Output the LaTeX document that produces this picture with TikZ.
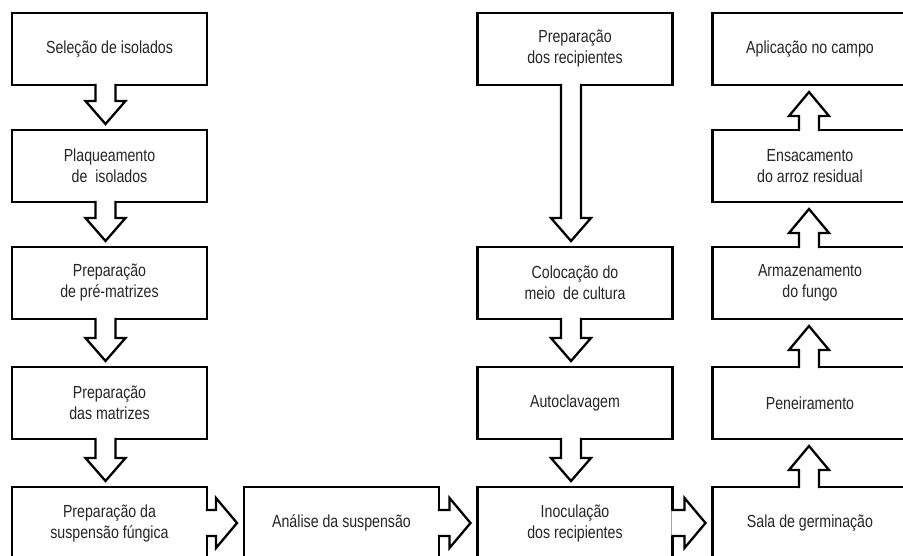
\documentclass[tikz,border=0pt]{standalone}
\usepackage{fontspec}
\setmainfont{Liberation Sans}
\newfontfamily\boxfont[FakeStretch=0.81]{Liberation Sans}
\usepackage{tikz}
\usetikzlibrary{calc}
\tikzset{
  stepbox/.style={draw, line width=2.4pt, fill=white, outer sep=0pt, inner sep=0pt,
    minimum width=195pt, minimum height=72pt, align=center, text=black!85,
    font=\boxfont\fontsize{17.5}{21}\selectfont},
  blkline/.style={line width=2.3pt, line join=miter},
}
\newcommand{\blkdown}[3]{%
  \fill[white] let \p1=($(#1.south)+(#3,0)$), \p2=(#2.north) in
    (\x1-10pt,\y1+1.2pt) -- (\x1-10pt,\y2+29pt) -- (\x1-20pt,\y2+29pt) -- (\x1,\y2+6pt)
    -- (\x1+20pt,\y2+29pt) -- (\x1+10pt,\y2+29pt) -- (\x1+10pt,\y1+1.2pt) -- cycle;
  \draw[blkline] let \p1=($(#1.south)+(#3,0)$), \p2=(#2.north) in
    (\x1-10pt,\y1+1.2pt) -- (\x1-10pt,\y2+29pt) -- (\x1-20pt,\y2+29pt) -- (\x1,\y2+6pt)
    -- (\x1+20pt,\y2+29pt) -- (\x1+10pt,\y2+29pt) -- (\x1+10pt,\y1+1.2pt);
}
\newcommand{\blkup}[3]{%
  \fill[white] let \p1=($(#1.north)+(#3,0)$), \p2=(#2.south) in
    (\x1-10pt,\y1-1.2pt) -- (\x1-10pt,\y2-31pt) -- (\x1-20pt,\y2-31pt) -- (\x1,\y2-7pt)
    -- (\x1+20pt,\y2-31pt) -- (\x1+10pt,\y2-31pt) -- (\x1+10pt,\y1-1.2pt) -- cycle;
  \draw[blkline] let \p1=($(#1.north)+(#3,0)$), \p2=(#2.south) in
    (\x1-10pt,\y1-1.2pt) -- (\x1-10pt,\y2-31pt) -- (\x1-20pt,\y2-31pt) -- (\x1,\y2-7pt)
    -- (\x1+20pt,\y2-31pt) -- (\x1+10pt,\y2-31pt) -- (\x1+10pt,\y1-1.2pt);
}
\newcommand{\blkright}[2]{%
  \fill[white] let \p1=(#1.east), \p2=(#2.west) in
    (\x1-1.2pt,\y1+13pt) -- (\x2-28pt,\y1+13pt) -- (\x2-28pt,\y1+25pt) -- (\x2-7pt,\y1)
    -- (\x2-28pt,\y1-25pt) -- (\x2-28pt,\y1-13pt) -- (\x1-1.2pt,\y1-13pt) -- cycle;
  \draw[blkline] let \p1=(#1.east), \p2=(#2.west) in
    (\x1-1.2pt,\y1+13pt) -- (\x2-28pt,\y1+13pt) -- (\x2-28pt,\y1+25pt) -- (\x2-7pt,\y1)
    -- (\x2-28pt,\y1-25pt) -- (\x2-28pt,\y1-13pt) -- (\x1-1.2pt,\y1-13pt);
}

\begin{document}
\begin{tikzpicture}[x=1pt, y=-1pt]
  \useasboundingbox (0,0) rectangle (903,555);
  \fill[white] (0,0) rectangle (903,555);
  \clip (0,0) rectangle (903,555);
  \node[stepbox] (sel)   at (109.5,49)  {Seleção de isolados};
  \node[stepbox] (plaq)  at (109.5,166) {Plaqueamento\\de\ \ isolados};
  \node[stepbox] (prem)  at (109.5,283) {Preparação\\de pré-matrizes};
  \node[stepbox] (matr)  at (109.5,403) {Preparação\\das matrizes};
  \node[stepbox] (susp)  at (109.5,523) {Preparação da\\suspensão fúngica};
  \node[stepbox] (anal)  at (341.5,523) {Análise da suspensão};
  \node[stepbox] (recip) at (575,49)    {Preparação\\dos recipientes};
  \node[stepbox] (meio)  at (575,283)   {Colocação do\\meio\ \ de cultura};
  \node[stepbox] (autoc) at (575,403)   {Autoclavagem};
  \node[stepbox] (inoc)  at (575,523)   {Inoculação\\dos recipientes};
  \node[stepbox] (aplic) at (810,49)    {Aplicação no campo};
  \node[stepbox] (ensac) at (810,166)   {Ensacamento\\do arroz residual};
  \node[stepbox] (armaz) at (810,283)   {Armazenamento\\do fungo};
  \node[stepbox] (pene)  at (810,403)   {Peneiramento};
  \node[stepbox] (sala)  at (810,523)   {Sala de germinação};
  \blkdown{sel}{plaq}{-4}
  \blkdown{plaq}{prem}{-4}
  \blkdown{prem}{matr}{-4}
  \blkdown{matr}{susp}{-4}
  \blkright{susp}{anal}
  \blkright{anal}{inoc}
  \blkright{inoc}{sala}
  \blkdown{recip}{meio}{-4}
  \blkdown{meio}{autoc}{-4}
  \blkdown{autoc}{inoc}{-4}
  \blkup{sala}{pene}{-1}
  \blkup{pene}{armaz}{-1}
  \blkup{armaz}{ensac}{-1}
  \blkup{ensac}{aplic}{-1}
\end{tikzpicture}
\end{document}
